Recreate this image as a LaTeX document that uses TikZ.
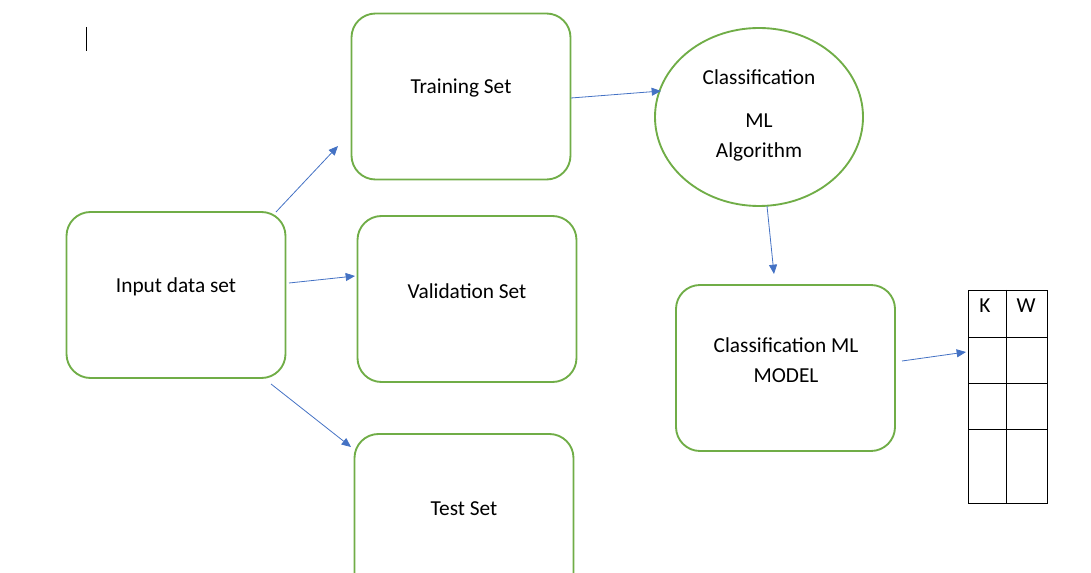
\documentclass[tikz,border=0pt]{standalone}
\usepackage{fontspec}
\setmainfont{Carlito}
\usetikzlibrary{arrows.meta,shapes.geometric}
\definecolor{grn}{HTML}{70AD47}
\definecolor{blu}{HTML}{4472C4}
\begin{document}
\begin{tikzpicture}[x=0.75pt,y=-0.75pt,font=\fontsize{16}{19}\selectfont,
 box/.style={draw=grn,line width=1.4pt,rounded corners=18pt,minimum width=219*0.75pt,minimum height=166*0.75pt,inner sep=0pt,align=center},
 arr/.style={draw=blu,line width=0.6pt,-{Triangle[length=7pt,width=6pt]}},
 cell/.style={draw=black,line width=0.5pt}]
\useasboundingbox (0,0) rectangle (1091,573);
\draw[line width=0.6pt] (86,27) -- (86,51);
\begin{scope}
\clip (0,0) rectangle (1091,573);
\node[box] (inp) at (176,295) {};
\node at (176,287) {Input data set};
\node[box] (tr) at (461,96.5) {};
\node at (461,88) {Training Set};
\node[box] (val) at (467,299) {};
\node at (467,291) {Validation Set};
\node[box,minimum height=200*0.75pt] (te) at (464,534) {};
\node at (464,509) {Test Set};
\node[draw=grn,line width=1.4pt,ellipse,minimum width=208*0.75pt,minimum height=178*0.75pt,inner sep=0pt] (alg) at (759,117) {};
\node at (759,77) {Classification};
\node[align=center,font=\fontsize{16}{22.5}\selectfont] at (759,137) {ML\\Algorithm};
\node[box] (mod) at (785.5,368) {};
\node[align=center,font=\fontsize{16}{23}\selectfont] at (786,360) {Classification ML\\MODEL};
\end{scope}
% table
\node[cell,minimum width=38*0.75pt,minimum height=47*0.75pt,inner sep=0pt] (k) at (987,313.5) {};
\node[cell,minimum width=41*0.75pt,minimum height=47*0.75pt,inner sep=0pt] (w) at (1026.5,313.5) {};
\node at (985,306) {K};
\node at (1026,306) {W};
\draw[line width=0.5pt] (968,290) rectangle (1047,503);
\draw[line width=0.5pt] (1006,290) -- (1006,503);
\foreach \y in {337,383,429} \draw[line width=0.5pt] (968,\y) -- (1047,\y);
\node[coordinate] (tab) at (966,352) {};
% arrows
\coordinate (a1s) at (276,212); \coordinate (a1e) at (338,146);
\coordinate (a2s) at (289,283); \coordinate (a2e) at (355,276);
\coordinate (a3s) at (271,384); \coordinate (a3e) at (351,447);
\coordinate (a4s) at (571,98);  \coordinate (a4e) at (661,91);
\coordinate (a5s) at (767,206); \coordinate (a5e) at (774,274);
\coordinate (a6s) at (902,361);
\draw[arr] (a1s) -- (a1e);
\draw[arr] (a2s) -- (a2e);
\draw[arr] (a3s) -- (a3e);
\draw[arr] (a4s) -- (a4e);
\draw[arr] (a5s) -- (a5e);
\draw[arr] (a6s) -- (tab);
\end{tikzpicture}
\end{document}
